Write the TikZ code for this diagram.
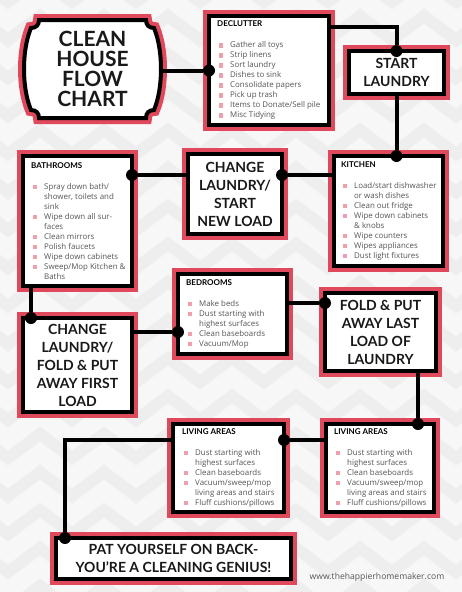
\documentclass[tikz,border=0pt]{standalone}
\usepackage{fontspec}
\setmainfont{Lato}
\newfontfamily\itemfont{Open Sans}
\usepackage{xcolor}
\usetikzlibrary{positioning, decorations.pathmorphing}

\definecolor{framered}{RGB}{224,72,92}
\definecolor{bulpink}{RGB}{240,160,172}
\definecolor{itemgray}{RGB}{85,85,85}
\definecolor{bggray}{RGB}{247,247,247}
\definecolor{zigzaggray}{RGB}{238,238,238}
\newcommand{\itembul}{\makebox[13pt][l]{\hspace{2pt}\textcolor{bulpink}{\rule[0.3pt]{4.2pt}{4.2pt}}}}
\newcommand{\itemcont}{\hspace*{13pt}}
\newcommand{\boxhead}[1]{{\rmfamily\bfseries\fontsize{8}{10}\selectfont\color{black}#1}}

\begin{document}
\begin{tikzpicture}[x=1pt, y=-1pt,
  frame/.style={draw=black, line width=4pt, fill=white,
    preaction={draw=framered, line width=12pt}},
  box/.style={frame, rectangle, inner sep=0pt, outer sep=0pt},
  bigbox/.style={box, align=center, text=black!90,
    font=\bfseries\fontsize{14}{18}\selectfont},
  listtext/.style={anchor=west, align=left, inner sep=0pt, text=itemgray,
    font=\itemfont\fontsize{7.9}{10}\selectfont},
  link/.style={line width=4pt},
  dot/.style={circle, fill=black, minimum size=12pt, inner sep=0pt}
]
\useasboundingbox (0,0) rectangle (462,592);
\fill[bggray] (0,0) rectangle (462,592);
\begin{scope}
  \clip (0,0) rectangle (462,592);
  \foreach \r in {0,...,16}
    \draw[zigzaggray, line width=12pt, decorate,
      decoration={zigzag, segment length=64pt, amplitude=12pt}]
      (-40,\r*38-10) -- (520,\r*38-10);
\end{scope}

% title
\draw[frame] (39,20) -- (146,20) .. controls (146,25) and (149,28) .. (154,28)
  .. controls (159,40) and (161,55) .. (161,69)
  .. controls (161,83) and (159,98) .. (154,110)
  .. controls (149,110) and (146,113) .. (146,118)
  -- (39,118) .. controls (39,113) and (36,110) .. (31,110)
  .. controls (26,98) and (24,83) .. (24,69)
  .. controls (24,55) and (26,40) .. (31,28)
  .. controls (36,28) and (39,25) .. (39,20) -- cycle;
\node[align=center, text=black!90, font=\bfseries\fontsize{21}{20}\selectfont,
  minimum width=137pt, minimum height=98pt, inner sep=0pt] (title) at (92.5,69)
  {CLEAN\\HOUSE\\FLOW\\CHART};

% boxes
\node[box, minimum width=120pt, minimum height=109pt] (declutter) at (269,70.5) {};
\node[listtext] (declutterList) at ([xshift=8pt]declutter.west) {%
  \boxhead{DECLUTTER}\\[11pt]
  \itembul Gather all toys\\
  \itembul Strip linens\\
  \itembul Sort laundry\\
  \itembul Dishes to sink\\
  \itembul Consolidate papers\\
  \itembul Pick up trash\\
  \itembul Items to Donate/Sell pile\\
  \itembul Misc Tidying};

\node[bigbox, minimum width=95pt, minimum height=43pt] (start) at (396.5,72.5)
  {START\\LAUNDRY};

\node[box, minimum width=109pt, minimum height=110pt] (kitchen) at (388.5,211) {};
\node[listtext] (kitchenList) at ([xshift=7pt]kitchen.west) {%
  \boxhead{KITCHEN}\\[11pt]
  \itembul Load/start dishwasher\\
  \itemcont or wash dishes\\
  \itembul Clean out fridge\\
  \itembul Wipe down cabinets\\
  \itemcont \& knobs\\
  \itembul Wipe counters\\
  \itembul Wipes appliances\\
  \itembul Dust light fixtures};

\node[bigbox, minimum width=94pt, minimum height=80pt] (change1) at (235,194)
  {CHANGE\\LAUNDRY/\\START\\NEW LOAD};

\node[box, minimum width=109pt, minimum height=130pt] (bath) at (77.5,221) {};
\node[listtext] (bathList) at ([xshift=8pt]bath.west) {%
  \boxhead{BATHROOMS}\\[11pt]
  \itembul Spray down bath/\\
  \itemcont shower, toilets and\\
  \itemcont sink\\
  \itembul Wipe down all sur-\\
  \itemcont faces\\
  \itembul Clean mirrors\\
  \itembul Polish faucets\\
  \itembul Wipe down cabinets\\
  \itembul Sweep/Mop Kitchen \&\\
  \itemcont Baths};

\node[bigbox, minimum width=109pt, minimum height=94pt] (change2) at (77.5,365)
  {CHANGE\\LAUNDRY/\\FOLD \& PUT\\AWAY FIRST\\LOAD};

\node[box, minimum width=109pt, minimum height=80pt] (bed) at (232.5,314) {};
\node[listtext] (bedList) at ([xshift=8pt]bed.west) {%
  \boxhead{BEDROOMS}\\[11pt]
  \itembul Make beds\\
  \itembul Dust starting with\\
  \itemcont highest surfaces\\
  \itembul Clean baseboards\\
  \itembul Vacuum/Mop};

\node[bigbox, minimum width=111pt, minimum height=78pt] (fold) at (380.5,332)
  {FOLD \& PUT\\AWAY LAST\\LOAD OF\\LAUNDRY};

\node[box, minimum width=108pt, minimum height=88pt] (livR) at (380,468) {};
\node[listtext] (livRList) at ([xshift=8pt]livR.west) {%
  \boxhead{LIVING AREAS}\\[11pt]
  \itembul Dust starting with\\
  \itemcont highest surfaces\\
  \itembul Clean baseboards\\
  \itembul Vacuum/sweep/mop\\
  \itemcont living areas and stairs\\
  \itembul Fluff cushions/pillows};

\node[box, minimum width=111pt, minimum height=88pt] (livL) at (228.5,468) {};
\node[listtext] (livLList) at ([xshift=9pt]livL.west) {%
  \boxhead{LIVING AREAS}\\[11pt]
  \itembul Dust starting with\\
  \itemcont highest surfaces\\
  \itembul Clean baseboards\\
  \itembul Vacuum/sweep/mop\\
  \itemcont living areas and stairs\\
  \itembul Fluff cushions/pillows};

\node[bigbox, minimum width=235pt, minimum height=41pt] (pat) at (173.5,558.5)
  {PAT YOURSELF ON BACK-\\YOU’RE A CLEANING GENIUS!};

\node[text=itemgray, font=\itemfont\fontsize{8.6}{10}\selectfont] (web) at (377,577)
  {www.thehappierhomemaker.com};

% connectors
\node[dot] (dA) at (declutter.west) {};
\node[dot] (dB) at (start.north) {};
\node[dot] (dC) at (start.south |- kitchen.north) {};
\node[dot] (dD) at ([yshift=19pt]change1.east) {};
\node[dot] (dE) at (bath.east |- dD) {};
\node[dot] (dF) at ([xshift=8pt]change2.north west) {};
\node[dot] (dG) at ([yshift=-18pt]bed.west) {};
\node[dot] (dH) at ([yshift=29pt]fold.west) {};
\node[dot] (dI) at ([xshift=38pt]livR.north) {};
\node[dot] (dJ) at ([yshift=28pt]livL.east) {};
\node[dot] (dK) at ([xshift=9pt]pat.north west) {};

\draw[link] (title.east |- dA) -- (dA);
\draw[link] ([yshift=-11pt]declutter.north east) -| (dB);
\draw[link] (start.south) -- (dC);
\draw[link] (kitchen.west |- dD) -- (dD);
\draw[link] (change1.west |- dE) -- (dE);
\draw[link] (bath.south -| dF) -- (dF);
\draw[link] (change2.east |- dG) -- (dG);
\draw[link] (bed.east |- dH) -- (dH);
\draw[link] (fold.south -| dI) -- (dI);
\draw[link] (livR.west |- dJ) -- (dJ);
\draw[link] (livL.west |- dJ) -| (dK);
\end{tikzpicture}
\end{document}
